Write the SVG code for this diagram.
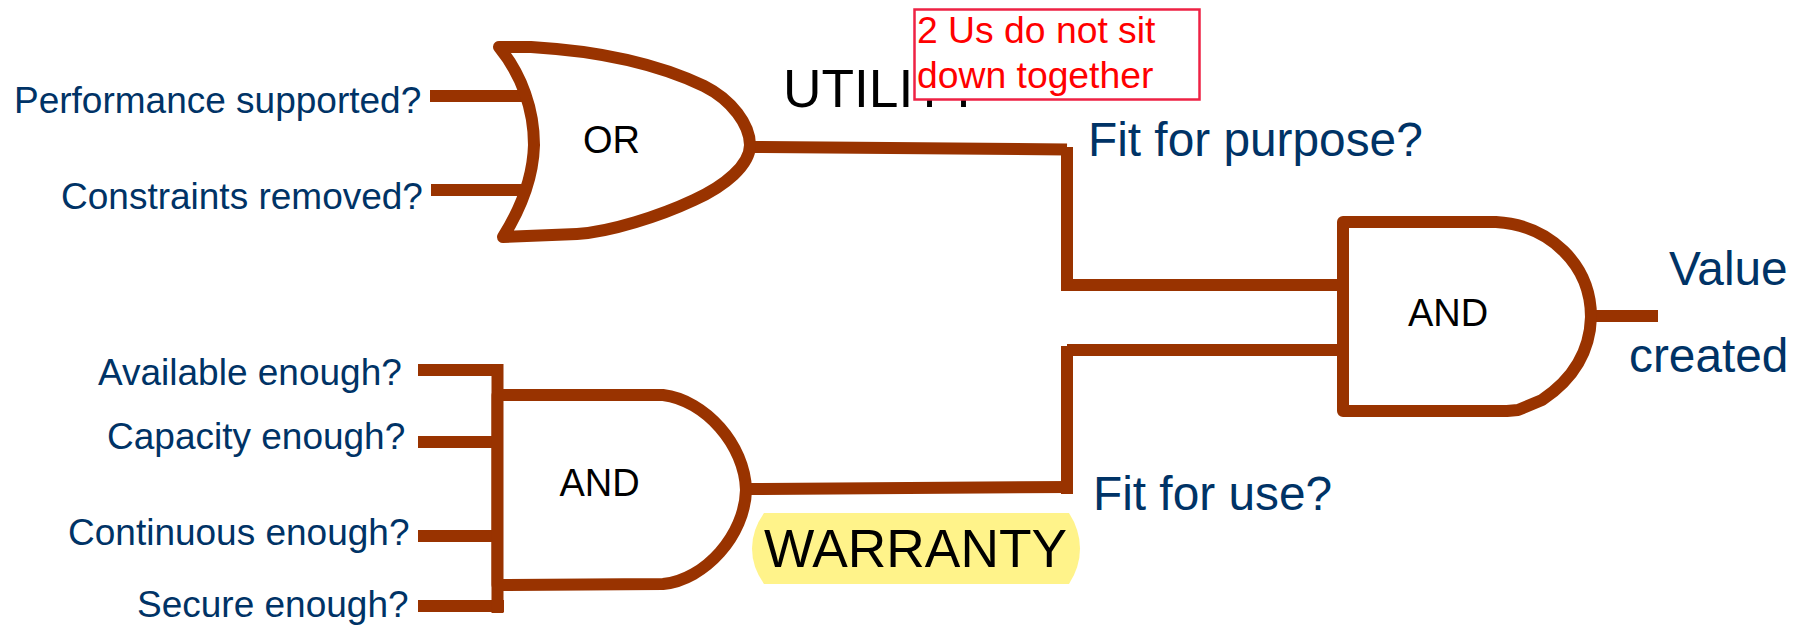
<svg xmlns="http://www.w3.org/2000/svg" width="1802" height="626" viewBox="0 0 1802 626">
<style>
text{font-family:"Liberation Sans",Arial,sans-serif}
.w{fill:none;stroke:#993300;stroke-width:12}
.g{fill:#fff;stroke:#993300;stroke-width:12;stroke-linejoin:round}
.q{fill:#003366;font-size:37px}
.b{fill:#003366;font-size:47.800px}
.l{fill:#000;font-size:38px}
.h{fill:#000;font-size:53.300px}
.r{fill:#f00;font-size:37.300px}
</style>
<rect width="1802" height="626" fill="#fff"/>
<g id="connectors">
<path class="w" d="M430 96H527"/>
<path class="w" d="M431 190H532"/>
<path class="w" d="M750 147L1067 149.500"/>
<path class="w" d="M1067 147V291"/>
<path class="w" d="M1067 285H1345"/>
<path class="w" d="M1067 350H1345"/>
<path class="w" d="M1067 346V494"/>
<path class="w" d="M746 489L1071 487"/>
<path class="w" d="M1591 316H1658"/>
<path class="w" d="M418 370H497"/>
<path class="w" d="M418 442H497"/>
<path class="w" d="M418 536H497"/>
<path class="w" d="M418 606H504"/>
<path class="w" d="M497.500 364V613"/>
</g>
<g id="or-gate">
<path class="g" d="M499 47H531C600 51 660 65 704 86C732 100 750 125 750 145C750 165 725 186 694 200C660 216 610 232 577 234L503 237C520 210 533 180 534 145C534 110 522 75 499 47Z"/>
<text class="l" x="583" y="153">OR</text>
</g>
<g id="and-gate-warranty">
<path class="g" d="M497.500 395H663C705 400 745 445 746 490C745 535 705 580 663 584L497.500 585Z"/>
<text class="l" x="559.500" y="496">AND</text>
</g>
<g id="and-gate-value">
<path class="g" d="M1343 222H1496C1550 225 1591 265 1591 317C1590 350 1575 378 1542 400L1518 410L1507 411H1343Z"/>
<text class="l" x="1408" y="326">AND</text>
</g>
<g id="inputs">
<text class="q" x="14" y="113">Performance supported?</text>
<text class="q" x="61" y="209">Constraints removed?</text>
<text class="q" x="98" y="385">Available enough?</text>
<text class="q" x="107" y="449">Capacity enough?</text>
<text class="q" x="68" y="545">Continuous enough?</text>
<text class="q" x="137" y="617">Secure enough?</text>
</g>
<g id="outcomes">
<text class="b" x="1088" y="156">Fit for purpose?</text>
<text class="b" x="1093" y="510">Fit for use?</text>
<text class="b" x="1669" y="285">Value</text>
<text class="b" x="1629" y="372">created</text>
</g>
<g id="utility">
<text class="h" x="783" y="107">UTILITY</text>
</g>
<g id="warranty">
<path fill="#fff38a" d="M764 513H1069Q1080 530 1080 548.500Q1080 567 1069 584H764Q752 567 752 548.500Q752 530 764 513Z"/>
<text class="h" x="764" y="567">WARRANTY</text>
</g>
<g id="note">
<rect x="914.500" y="9.500" width="285" height="90" fill="#fff" stroke="#ee2244" stroke-width="2.500"/>
<text class="r" x="917" y="43">2 Us do not sit</text>
<text class="r" x="917" y="88">down together</text>
</g>
</svg>
